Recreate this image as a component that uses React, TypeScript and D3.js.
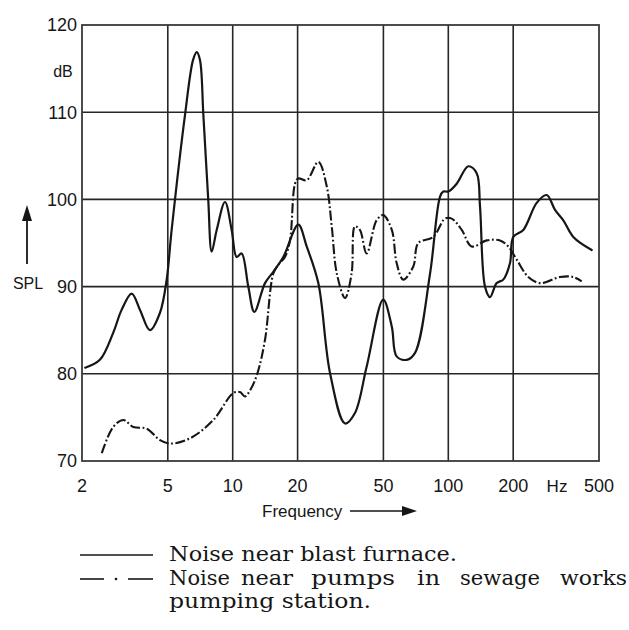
import React from "react";
import * as d3 from "d3";

const freqTicks = [2, 5, 10, 20, 50, 100, 200, 500];
const freqGrid = [5, 10, 20, 50, 100, 200];
const dbTicks = [70, 80, 90, 100, 110, 120];
const dbGrid = [80, 90, 100, 110];

const furnaceFreq = [2.07, 2.42, 2.79, 3.05, 3.4, 3.72, 4.13, 4.6, 4.94, 5.21, 6.01, 6.55, 6.81, 7.05, 7.31, 7.7, 7.99, 8.43, 9.21, 9.89, 10.43, 11.0, 11.81, 12.6, 14.12, 15.43, 17.17, 20.15, 22.04, 24.95, 28.27, 33.2, 36.9, 41.8, 49.9, 54.7, 57.6, 64.1, 70.1, 82.3, 91.5, 94.8, 100, 109.4, 123.8, 135.4, 140.3, 148, 156.1, 167.7, 179.9, 193.3, 200.2, 222.8, 257, 286, 312.6, 341.6, 380, 462.6];
const furnaceDb = [80.7, 81.6, 84.7, 87.3, 89.2, 87.3, 85.0, 87.0, 90.8, 96.5, 109.7, 116.0, 116.9, 116.0, 109.7, 100.0, 94.0, 96.5, 99.7, 96.5, 93.4, 93.8, 90.0, 87.1, 90.4, 91.7, 93.4, 97.1, 94.6, 90.4, 80.1, 74.3, 75.5, 80.8, 88.5, 85.4, 82.0, 81.6, 82.4, 91.5, 100.3, 100.9, 100.9, 101.8, 103.8, 103.0, 99.2, 90.0, 88.8, 90.4, 90.8, 92.7, 95.7, 96.5, 99.6, 100.5, 98.8, 97.6, 95.7, 94.2];

const pumpsFreq = [2.47, 2.79, 3.11, 3.46, 3.99, 4.6, 5.12, 6.34, 8.13, 10.06, 10.8, 11.4, 12.1, 13.0, 14.12, 15.43, 16.27, 17.48, 18.44, 19.45, 20.15, 22.04, 24.95, 27.3, 28.8, 30.4, 33.2, 35.6, 36.9, 38.9, 41.8, 46.5, 49.9, 54.7, 57.6, 61.8, 68.8, 72.6, 85.2, 96.5, 103.7, 115.4, 128.4, 150.7, 173.7, 189.8, 207.6, 235, 266.3, 329.6, 380, 415.6];
const pumpsDb = [70.9, 73.9, 74.7, 73.9, 73.7, 72.4, 72.0, 72.6, 74.7, 77.8, 77.9, 77.4, 78.2, 80.0, 83.9, 91.5, 92.5, 93.4, 95.3, 101.8, 102.4, 102.2, 104.3, 101.5, 96.9, 91.5, 88.7, 91.5, 96.9, 96.5, 93.8, 97.6, 98.2, 96.5, 92.7, 90.8, 92.3, 95.0, 95.7, 97.8, 97.8, 96.5, 94.6, 95.3, 95.3, 94.6, 93.1, 91.1, 90.4, 91.1, 91.1, 90.6];

const legendLine1 = "Noise near blast furnace.";
const legendLine2Words = ["Noise", "near", "pumps", "in", "sewage", "works"];
const legendLine3 = "pumping station.";

const INK = "#161616";
const SANS = "'Liberation Sans', Arial, sans-serif";
const SERIF = "'DejaVu Serif', 'Liberation Serif', serif";

export default function App() {
  const W = 629, H = 630;
  const x = d3.scaleLog().domain([2, 500]).range([82, 599]);
  const y = d3.scaleLinear().domain([70, 120]).range([461, 25]);

  const line = d3
    .line<[number, number]>()
    .x((d) => x(d[0]))
    .y((d) => y(d[1]))
    .curve(d3.curveCatmullRom.alpha(0.5));

  const furnace = furnaceFreq.map((f, i) => [f, furnaceDb[i]] as [number, number]);
  const pumps = pumpsFreq.map((f, i) => [f, pumpsDb[i]] as [number, number]);

  const wordX = [169, 241, 311, 417, 460, 560];
  const wordW = [61, 52, 84, 23, 80, 67];

  return (
    <svg width={W} height={H} style={{ position: "absolute", left: 0, top: 0, background: "#fff" }}>
      <rect x={0} y={0} width={W} height={H} fill="#fff" />
      {freqGrid.map((f) => (
        <line key={"vx" + f} x1={x(f)} x2={x(f)} y1={y(120)} y2={y(70)} stroke="#262626" strokeWidth={1.6} />
      ))}
      {dbGrid.map((v) => (
        <line key={"hy" + v} x1={x(2)} x2={x(500)} y1={y(v)} y2={y(v)} stroke="#262626" strokeWidth={1.6} />
      ))}
      <rect x={x(2)} y={y(120)} width={x(500) - x(2)} height={y(70) - y(120)} fill="none" stroke="#3a3a3a" strokeWidth={1.8} />

      <path d={line(furnace) || ""} fill="none" stroke={INK} strokeWidth={2.2} strokeLinejoin="round" strokeLinecap="round" />
      <path d={line(pumps) || ""} fill="none" stroke={INK} strokeWidth={2.1} strokeDasharray="10,2.5,1.8,2.5" strokeLinejoin="round" />

      {dbTicks.map((v) => (
        <text key={"yt" + v} x={77} y={y(v)} dy="0.36em" textAnchor="end" fontFamily={SANS} fontSize={18} fill={INK}>
          {v}
        </text>
      ))}
      <text x={63} y={71} dy="0.36em" textAnchor="middle" fontFamily={SANS} fontSize={16} fill={INK}>dB</text>

      {freqTicks.map((f) => (
        <text key={"xt" + f} x={x(f)} y={492} textAnchor="middle" fontFamily={SANS} fontSize={18} fill={INK}>
          {f}
        </text>
      ))}
      <text x={557} y={492} textAnchor="middle" fontFamily={SANS} fontSize={17} fill={INK}>Hz</text>

      <text x={262} y={517} fontFamily={SANS} fontSize={17} fill={INK}>Frequency</text>
      <line x1={350} x2={405} y1={511} y2={511} stroke={INK} strokeWidth={1.6} />
      <path d="M402,506 L417,511 L402,516 Z" fill={INK} />

      <line x1={27} x2={27} y1={264} y2={216} stroke={INK} strokeWidth={1.8} />
      <path d="M22,221 L27,205 L32,221 Z" fill={INK} />
      <text x={28} y={289} textAnchor="middle" fontFamily={SANS} fontSize={16} fill={INK}>SPL</text>

      <line x1={80} x2={153} y1={555} y2={555} stroke={INK} strokeWidth={1.6} />
      <text x={169} y={561} fontFamily={SERIF} fontSize={20} fill={INK} textLength={288} lengthAdjust="spacingAndGlyphs">
        {legendLine1}
      </text>

      <line x1={80} x2={104} y1={579} y2={579} stroke={INK} strokeWidth={1.6} />
      <circle cx={116} cy={579} r={1.3} fill={INK} />
      <line x1={128} x2={153} y1={579} y2={579} stroke={INK} strokeWidth={1.6} />
      {legendLine2Words.map((w, i) => (
        <text key={w} x={wordX[i]} y={585} fontFamily={SERIF} fontSize={20} fill={INK} textLength={wordW[i]} lengthAdjust="spacingAndGlyphs">
          {w}
        </text>
      ))}
      <text x={169} y={608} fontFamily={SERIF} fontSize={20} fill={INK} textLength={202} lengthAdjust="spacingAndGlyphs">
        {legendLine3}
      </text>
    </svg>
  );
}
